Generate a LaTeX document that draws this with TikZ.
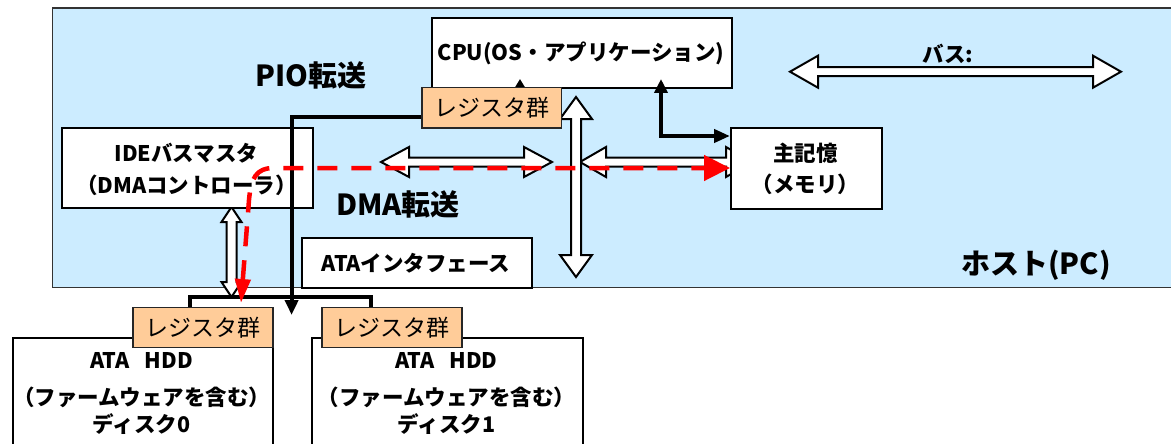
\documentclass[tikz,border=0pt]{standalone}
\usepackage{fontspec}
\setmainfont{Noto Sans CJK JP}
\usetikzlibrary{arrows.meta}
\definecolor{hostblue}{RGB}{204,236,255}
\definecolor{regorange}{RGB}{255,204,153}
\newcommand\hollowH[6]{%
 \draw[hollow] (#1,#3) -- (#1+#6,#3-#5) -- (#1+#6,#3-#4) -- (#2-#6,#3-#4) -- (#2-#6,#3-#5) -- (#2,#3) -- (#2-#6,#3+#5) -- (#2-#6,#3+#4) -- (#1+#6,#3+#4) -- (#1+#6,#3+#5) -- cycle;}
\newcommand\hollowV[6]{%
 \draw[hollow] (#1,#2) -- (#1+#5,#2+#6) -- (#1+#4,#2+#6) -- (#1+#4,#3-#6) -- (#1+#5,#3-#6) -- (#1,#3) -- (#1-#5,#3-#6) -- (#1-#4,#3-#6) -- (#1-#4,#2+#6) -- (#1-#5,#2+#6) -- cycle;}
\begin{document}
\begin{tikzpicture}[x=1pt,y=-1pt,
  box/.style={draw=black, line width=2pt, fill=white, inner sep=0pt, anchor=north west, align=center},
  reg/.style={draw=black!85, line width=1.5pt, fill=regorange, inner sep=0pt, anchor=north west, font=\fontsize{23}{26}\selectfont},
  lbl/.style={font=\fontsize{21.5}{33}\selectfont\bfseries, align=center},
  big/.style={font=\fontsize{29}{32}\selectfont\bfseries},
  hollow/.style={draw=black, line width=2pt, fill=white, line join=miter},
  heavy/.style={line width=4pt, draw=black},
  tip/.style={-{Triangle[length=15pt,width=13pt]}},
  reddash/.style={draw=red, line width=4.5pt, dash pattern=on 20pt off 14pt}
]
\useasboundingbox (0,0) rectangle (1171,444);
\clip (0,0) rectangle (1171,444);
% host
\node[draw=black!80, line width=1.5pt, fill=hostblue, inner sep=0pt, anchor=north west,
      minimum width=1130pt, minimum height=279.4pt] (host) at (51.7,7.3) {};
% hollow arrows
\hollowH{790}{1121}{71.7}{4.5}{16}{28}
\hollowH{381}{552}{162}{4.5}{15}{28}
\hollowH{580}{752}{162}{4.5}{15}{26}
\hollowV{576}{97}{277}{5}{16}{22}
\hollowV{231.5}{207}{297}{5}{10}{15}
% boxes
\node[box, minimum width=300pt, minimum height=70.3pt] (cpu) at (431,16.7) {};
\node[reg, minimum width=139.6pt, minimum height=40pt] (treg) at (421,87) {レジスタ群};
\node[box, minimum width=251pt, minimum height=80pt] (ide) at (61,127) {};
\node[box, minimum width=151pt, minimum height=81pt] (mem) at (730,127) {};
\node[box, minimum width=230pt, minimum height=50pt] (ataif) at (301,237) {};
\node[box, minimum width=260.5pt, minimum height=130pt] (hdd0) at (11.5,336.7) {};
\node[box, minimum width=271pt, minimum height=130pt] (hdd1) at (311,336.7) {};
\node[reg, minimum width=140pt, minimum height=40pt] (reg0) at (132,306.7) {レジスタ群};
\node[reg, minimum width=140pt, minimum height=40pt] (reg1) at (321,306.7) {レジスタ群};
% texts
\node[lbl] (cput) at (581,53) {CPU(OS・アプリケーション)};
\node[lbl] (idet1) at (186.5,153) {IDEバスマスタ};
\node[lbl] (idet2) at (186.5,185) {（DMAコントローラ）};
\node[lbl] (memt1) at (805.5,153) {主記憶};
\node[lbl] (memt2) at (805.5,184) {（メモリ）};
\node[lbl] (atat) at (416,263) {ATAインタフェース};
\node[lbl] (bust) at (948,54) {バス:};
\node[big] (pio) at (311,75) {PIO転送};
\node[big] (dma) at (398,204) {DMA転送};
\node[big] (hostt) at (1036,265) {ホスト(PC)};
\node[lbl] (h0a) at (141.7,360) {ATA\hspace{0.7em}HDD};
\node[lbl] (h0b) at (141.7,397) {（ファームウェアを含む）};
\node[lbl] (h0c) at (141.7,424) {ディスク0};
\node[lbl] (h1a) at (446.5,360) {ATA\hspace{0.7em}HDD};
\node[lbl] (h1b) at (446.5,397) {（ファームウェアを含む）};
\node[lbl] (h1c) at (446.5,424) {ディスク1};
% ATA cable
\coordinate (cabL) at (190,296.7);
\coordinate (cabR) at (371,296.7);
\draw[heavy, line join=miter] (cabL |- reg0.north) -- (cabL) -- (cabR) -- (cabR |- reg1.north);
% PIO line
\coordinate (pioend) at (291.6,315);
\draw[heavy, tip] ([yshift=-9pt]treg.west) -| (pioend);
% register -> CPU tip
\coordinate (rtip) at (520,79);
\draw[line width=2pt, -{Triangle[length=8pt,width=9pt]}] (rtip |- treg.north) -- (rtip);
% CPU <-> memory
\coordinate (cm) at (661,136);
\coordinate (cmtop) at (661,79);
\draw[heavy, {Triangle[length=14pt,width=13pt]}-{Triangle[length=16pt,width=13pt]}] (cmtop) -- (cm) -- (cm -| mem.west);
% DMA red dashed
\coordinate (redB) at (241,303);
\coordinate (redM) at (249,200);
\coordinate (redT) at (274,168);
\draw[reddash, {Triangle[length=24pt,width=15pt]}-{Triangle[length=26pt,width=25pt]}]
  (redB) -- (redM) .. controls (251,178) and (256,168) .. (redT) -- (redT -| mem.west);
\end{tikzpicture}
\end{document}
